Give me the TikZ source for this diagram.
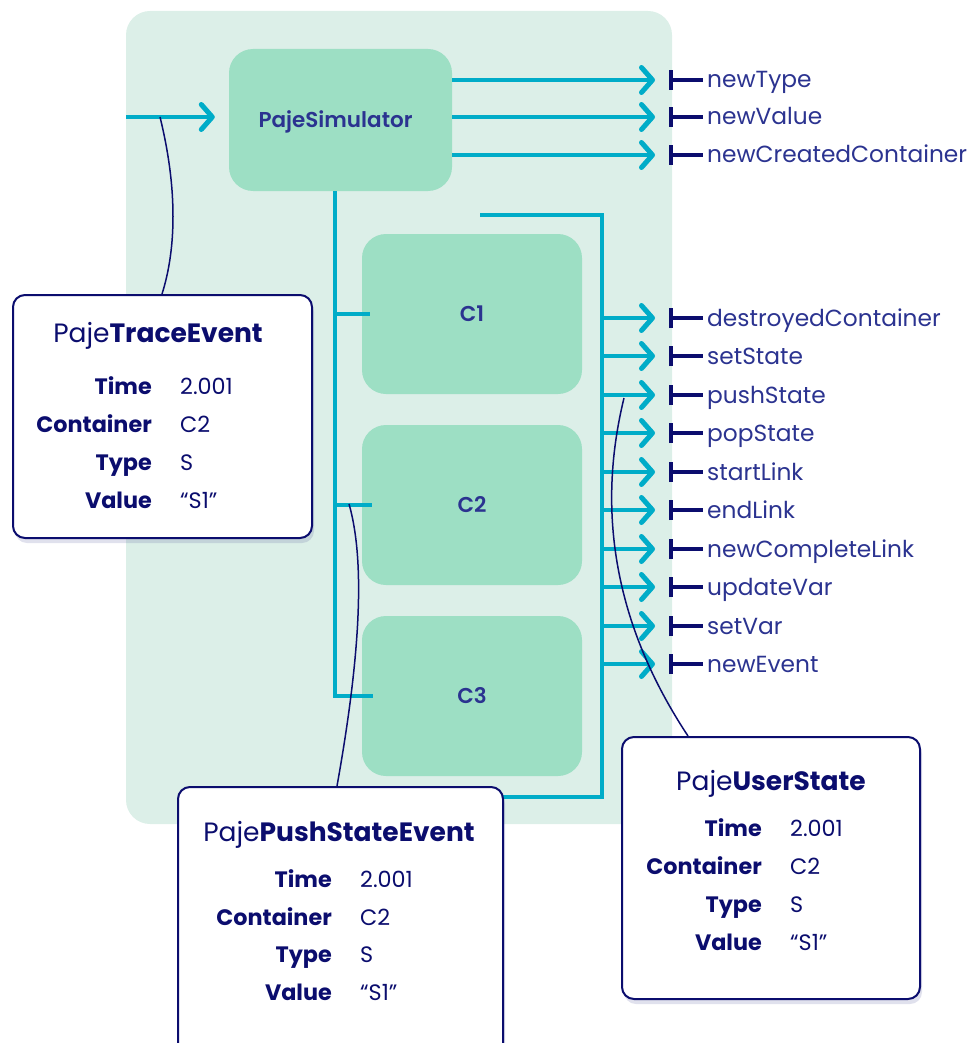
\documentclass[tikz,border=0pt]{standalone}
\usepackage{fontspec}
\setmainfont{Poppins}
\newfontfamily\medfont{Poppins SemiBold}
\usetikzlibrary{arrows.meta,shadows,calc}
\definecolor{bgmint}{HTML}{DCEFE8}
\definecolor{boxmint}{HTML}{9DDFC4}
\definecolor{cyanline}{HTML}{00ACC8}
\definecolor{navy}{HTML}{0B0D6E}
\definecolor{textblue}{HTML}{2B3390}
\begin{document}
\begin{tikzpicture}[x=1pt,y=-1pt,
  bgbox/.style={fill=bgmint, rounded corners=24pt, inner sep=0pt},
  simbox/.style={fill=boxmint, rounded corners=24pt, inner sep=0pt, text height=15pt, text depth=0pt, text=textblue, font=\fontsize{21.5}{26}\medfont},
  cbox/.style={fill=boxmint, rounded corners=24pt, inner sep=0pt, text height=15pt, text depth=0pt, minimum width=220pt, minimum height=160pt, text=textblue, font=\fontsize{21.5}{26}\medfont},
  infobox/.style={draw=navy, line width=2pt, fill=white, rounded corners=12pt, inner sep=0pt,
     drop shadow={shadow xshift=2pt, shadow yshift=-5pt, opacity=0.18, fill=navy!70!white}},
  line/.style={draw=cyanline, line width=3.5pt},
  flow/.style={line, -{Straight Barb[length=11pt,width=25pt,round,line width=5pt]}},
  bar/.style={draw=navy, line width=4pt},
  callout/.style={draw=navy, line width=1.5pt},
  evlabel/.style={anchor=west, inner sep=0pt, text height=16pt, text depth=0pt, text=textblue, font=\fontsize{23.3}{27}\selectfont},
  ttl/.style={text=navy, inner sep=0pt, font=\fontsize{26.5}{31}\selectfont},
  fkey/.style={anchor=east, inner sep=0pt, text height=15pt, text depth=0pt, text=navy, font=\fontsize{22.3}{26}\selectfont\bfseries},
  fval/.style={anchor=west, inner sep=0pt, text height=15pt, text depth=0pt, text=navy, font=\fontsize{22.3}{26}\selectfont}
]
\useasboundingbox (0,0) rectangle (969,1043);

% background
\node[bgbox, minimum width=546pt, minimum height=813pt] (bg) at (399,417.5) {};

% simulator and containers
\node[simbox, minimum width=223pt, minimum height=142pt] (sim) at (340.5,120) {\hspace*{-10pt}PajeSimulator};
\node[cbox] (c1) at (472,314) {C1};
\node[cbox] (c2) at (472,505) {C2};
\node[cbox] (c3) at (472,696) {C3};

% event labels
\node[evlabel] (eNewType) at (707,80) {newType};
\node[evlabel] (eNewValue) at (707,117) {newValue};
\node[evlabel] (eNewCC) at (707,155) {newCreatedContainer};
\node[evlabel] (eDestroyed) at (707,318) {destroyedContainer};
\node[evlabel] (eSetState) at (707,356) {setState};
\node[evlabel] (ePushState) at (707,395) {pushState};
\node[evlabel] (ePopState) at (707,433) {popState};
\node[evlabel] (eStartLink) at (707,472) {startLink};
\node[evlabel] (eEndLink) at (707,510) {endLink};
\node[evlabel] (eNewCL) at (707,549) {newCompleteLink};
\node[evlabel] (eUpdateVar) at (707,587) {updateVar};
\node[evlabel] (eSetVar) at (707,626) {setVar};
\node[evlabel] (eNewEvent) at (707,664) {newEvent};

% T bars before labels
\foreach \e in {eNewType,eNewValue,eNewCC,eDestroyed,eSetState,ePushState,ePopState,eStartLink,eEndLink,eNewCL,eUpdateVar,eSetVar,eNewEvent}{
  \draw[bar] ([xshift=-36pt,yshift=-10pt]\e.west) -- ([xshift=-36pt,yshift=10pt]\e.west);
  \draw[bar] ([xshift=-36pt]\e.west) -- ([xshift=-4pt]\e.west);
}

% input arrow
\coordinate (inStart) at (126,117);
\draw[flow] (inStart) -- ([xshift=-14pt]sim.west |- inStart);

% top outputs
\foreach \e in {eNewType,eNewValue,eNewCC}{
  \draw[flow] (sim.east |- \e.west) -- ([xshift=-52pt]\e.west);
}

% left bus to containers
\draw[line] (sim.south -| 335,0) |- ([xshift=11pt]c3.west);
\draw[line] (c1.west -| 335,0) -- ([xshift=8pt]c1.west);
\draw[line] (c2.west -| 335,0) -- ([xshift=10pt]c2.west);

% right bus
\coordinate (busTop) at (480,215);
\coordinate (busEnd) at (470,797);
\draw[line] (busTop) -| (602,797) -- (busEnd);
\foreach \e in {eDestroyed,eSetState,ePushState,ePopState,eStartLink,eEndLink,eNewCL,eUpdateVar,eSetVar,eNewEvent}{
  \draw[flow] (\e.west -| 600,0) -- ([xshift=-52pt]\e.west);
}

% info boxes
\node[infobox, minimum width=299pt, minimum height=243pt] (trace) at (162.5,416.5) {};
\node[infobox, minimum width=325pt, minimum height=283pt] (push) at (340.5,928.5) {};
\node[infobox, minimum width=298pt, minimum height=262pt] (user) at (771,868) {};

\node[ttl] (traceT) at (158,336) {Paje\textbf{TraceEvent}};
\node[ttl] (pushT) at (339,835) {Paje\textbf{PushStateEvent}};
\node[ttl] (userT) at (771,784) {Paje\textbf{UserState}};

\foreach \k/\v/\i in {Time/2.001/0, Container/C2/1, Type/S/2, Value/“S1”/3}{
  \node[fkey] (trk\i) at (152,387+38*\i) {\k};
  \node[fval] (trv\i) at (180,387+38*\i) {\v};
  \node[fkey] (psk\i) at (332,880+37.7*\i) {\k};
  \node[fval] (psv\i) at (360,880+37.7*\i) {\v};
  \node[fkey] (usk\i) at (762,829+38*\i) {\k};
  \node[fval] (usv\i) at (790,829+38*\i) {\v};
}

% callout lines
\coordinate (callA) at (160,117);
\coordinate (callB) at (349,504);
\coordinate (callC) at (624,398);
\draw[callout] (callA) .. controls (178,190) and (176,250) .. (trace.north -| 162,0);
\draw[callout] (callB) .. controls (368,570) and (356,680) .. (push.north -| 337,0);
\draw[callout] (callC) .. controls (604,480) and (598,600) .. (user.north -| 688,0);
\end{tikzpicture}
\end{document}
